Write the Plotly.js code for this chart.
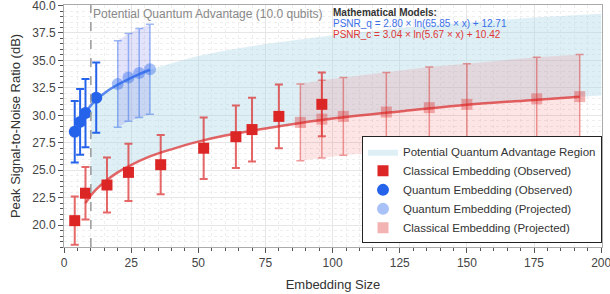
<!DOCTYPE html>
<html>
<head>
<meta charset="utf-8">
<script src="https://cdn.plot.ly/plotly-3.0.1.min.js"></script>
<style>html,body{margin:0;padding:0;background:#fff;}#chart{width:610px;height:294px;}</style>
</head>
<body>
<div id="chart"></div>
<script>
// Quantum embedding (observed)
const qObsX = [4, 6, 8, 12];
const qObsY = [28.5, 29.4, 30.2, 31.6];
const qObsErr = [2.8, 3.0, 3.1, 3.2];
// Quantum embedding (projected)
const qProjX = [20, 24, 28, 32];
const qProjY = [32.85, 33.45, 33.85, 34.2];
const qProjErr = [3.95, 4.0, 4.05, 4.1];
// Classical embedding (observed)
const cObsX = [4, 8, 16, 24, 36, 52, 64, 70, 80, 96];
const cObsY = [20.4, 22.9, 23.65, 24.8, 25.5, 27.0, 28.05, 28.7, 29.9, 31.0];
const cObsErr = [2.2, 2.4, 2.5, 2.6, 2.7, 2.8, 2.85, 2.9, 2.9, 2.9];
// Classical embedding (projected)
const cProjX = [88, 96, 104, 120, 136, 150, 176, 192];
const cProjY = [29.35, 29.65, 29.9, 30.3, 30.7, 31.0, 31.5, 31.7];
const cProjErr = [3.5, 3.55, 3.55, 3.6, 3.7, 3.7, 3.8, 3.85];
// Fitted curves
const qCurveX = [4, 6, 8, 10, 12, 16, 20, 24, 28, 32, 40, 50, 60, 75, 100, 125, 150, 175, 200];
const qCurveY = [28.3, 29.45, 30.25, 30.9, 31.4, 32.2, 32.8, 33.3, 33.75, 34.15, 34.75, 35.4, 35.9, 36.5, 37.3, 37.95, 38.45, 38.9, 39.25];
const cCurveX = [8, 10, 12, 16, 20, 24, 32, 40, 50, 60, 75, 88, 100, 125, 150, 175, 192, 200];
const cCurveY = [22.0, 22.7, 23.25, 24.1, 24.8, 25.35, 26.25, 26.9, 27.6, 28.15, 28.8, 29.3, 29.7, 30.35, 30.95, 31.4, 31.7, 31.8];
const qLineEnd = 32;
const cLineEnd = 192;
const advantageX = 10;
const advantageLabel = 'Potential Quantum Advantage (10.0 qubits)';
const modelTitle = '<b>Mathematical Models:</b>';
const modelQ = 'PSNR_q = 2.80 × ln(65.85 × x) + 12.71';
const modelC = 'PSNR_c = 3.04 × ln(5.67 × x) + 10.42';

const BLUE = '#2563eb', RED = '#dc2626';
const FONT = 'Liberation Sans, Arial, sans-serif';

function sel(xs, ys, f) { const ox = [], oy = []; xs.forEach((x, i) => { if (f(x)) { ox.push(x); oy.push(ys[i]); } }); return [ox, oy]; }

const [ruX, ruY] = sel(qCurveX, qCurveY, x => x >= advantageX);
const [rlX, rlY] = sel(cCurveX, cCurveY, x => x >= advantageX);
const regionX = ruX.concat(rlX.slice().reverse());
const regionY = ruY.concat(rlY.slice().reverse());

const [qlX, qlY] = sel(qCurveX, qCurveY, x => x <= qLineEnd);
const [clX, clY] = sel(cCurveX, cCurveY, x => x <= cLineEnd);

function band(xs, ys, es) {
  const up = ys.map((y, i) => y + es[i]);
  const lo = ys.map((y, i) => y - es[i]);
  return { x: xs.concat(xs.slice().reverse()), y: up.concat(lo.slice().reverse()) };
}
const qBand = band(qProjX, qProjY, qProjErr);
const cBand = band(cProjX, cProjY, cProjErr);

const traces = [
  { x: regionX, y: regionY, type: 'scatter', mode: 'lines', fill: 'toself', fillcolor: 'rgba(173,216,230,0.4)', line: { width: 0, color: 'rgba(173,216,230,0.4)' }, name: 'Potential Quantum Advantage Region', legendrank: 1, hoverinfo: 'skip' },
  { x: qBand.x, y: qBand.y, type: 'scatter', mode: 'lines', fill: 'toself', fillcolor: 'rgba(99,102,241,0.18)', line: { width: 0 }, showlegend: false, hoverinfo: 'skip' },
  { x: cBand.x, y: cBand.y, type: 'scatter', mode: 'lines', fill: 'toself', fillcolor: 'rgba(240,80,80,0.15)', line: { width: 0 }, showlegend: false, hoverinfo: 'skip' },
  { x: qlX, y: qlY, type: 'scatter', mode: 'lines', line: { color: 'rgba(37,99,235,0.75)', width: 2.5, shape: 'spline' }, showlegend: false },
  { x: clX, y: clY, type: 'scatter', mode: 'lines', line: { color: 'rgba(220,38,38,0.7)', width: 2.5, shape: 'spline' }, showlegend: false },
  { x: cObsX, y: cObsY, type: 'scatter', mode: 'markers', name: 'Classical Embedding (Observed)', legendrank: 2,
    marker: { symbol: 'square', size: 11, color: RED },
    error_y: { type: 'data', array: cObsErr, visible: true, color: 'rgba(220,38,38,0.7)', thickness: 2, width: 4 } },
  { x: qObsX, y: qObsY, type: 'scatter', mode: 'markers', name: 'Quantum Embedding (Observed)', legendrank: 3,
    marker: { symbol: 'circle', size: 12, color: BLUE },
    error_y: { type: 'data', array: qObsErr, visible: true, color: BLUE, thickness: 2, width: 4 } },
  { x: qProjX, y: qProjY, type: 'scatter', mode: 'markers', name: 'Quantum Embedding (Projected)', legendrank: 4,
    marker: { symbol: 'circle', size: 12, color: 'rgba(37,99,235,0.4)' },
    error_y: { type: 'data', array: qProjErr, visible: true, color: 'rgba(37,99,235,0.45)', thickness: 1.5, width: 4 } },
  { x: cProjX, y: cProjY, type: 'scatter', mode: 'markers', name: 'Classical Embedding (Projected)', legendrank: 5,
    marker: { symbol: 'square', size: 11, color: 'rgba(220,38,38,0.35)' },
    error_y: { type: 'data', array: cProjErr, visible: true, color: 'rgba(220,38,38,0.45)', thickness: 1.5, width: 4 } }
];

const axisCommon = {
  showline: true, linecolor: '#aaa', linewidth: 1, mirror: true,
  ticks: 'outside', ticklen: 5, tickcolor: '#555', tickwidth: 1,
  showgrid: true, gridcolor: '#e6e6e6', gridwidth: 1, zeroline: false,
  ticklabeloverflow: 'allow',
  tickfont: { family: FONT, size: 12, color: '#444' }
};

const layout = {
  width: 610, height: 294,
  margin: { l: 64, r: 8, t: 5, b: 47 },
  paper_bgcolor: '#fff', plot_bgcolor: '#fff',
  font: { family: FONT },
  showlegend: true,
  legend: { x: 1, xanchor: 'right', y: 0.015, yanchor: 'bottom', bgcolor: '#fff', bordercolor: '#222', borderwidth: 1,
    font: { family: FONT, size: 11.5, color: '#333' }, tracegroupgap: 0, itemwidth: 30 },
  xaxis: Object.assign({}, axisCommon, {
    range: [0, 200.3], dtick: 25, tick0: 0,
    minor: { dtick: 5, ticklen: 3, tickcolor: '#555', showgrid: true, gridcolor: '#eeeeee', griddash: 'dot' },
    title: { text: 'Embedding Size', font: { family: FONT, size: 13, color: '#333' }, standoff: 10 }
  }),
  yaxis: Object.assign({}, axisCommon, {
    range: [18, 40.05], dtick: 2.5, tick0: 20, tickformat: '.1f',
    minor: { dtick: 0.5, ticklen: 3, tickcolor: '#555', showgrid: true, gridcolor: '#eeeeee', griddash: 'dot' },
    title: { text: 'Peak Signal-to-Noise Ratio (dB)', font: { family: FONT, size: 13, color: '#333' }, standoff: 8 }
  }),
  shapes: [
    { type: 'line', xref: 'x', yref: 'paper', x0: advantageX, x1: advantageX, y0: 0, y1: 1, line: { color: '#999', width: 1.5, dash: 'dash' } }
  ],
  annotations: [
    { xref: 'x', yref: 'paper', x: advantageX, y: 1.0, xanchor: 'left', yanchor: 'top', xshift: 0, text: advantageLabel, showarrow: false, font: { family: FONT, size: 12, color: '#888' } },
    { xref: 'paper', yref: 'paper', x: 0.497, y: 1.0, xanchor: 'left', yanchor: 'top', text: modelTitle, showarrow: false, font: { family: FONT, size: 10, color: '#333' } },
    { xref: 'paper', yref: 'paper', x: 0.497, y: 0.955, xanchor: 'left', yanchor: 'top', text: modelQ, showarrow: false, font: { family: FONT, size: 10, color: '#3b6fe8' } },
    { xref: 'paper', yref: 'paper', x: 0.497, y: 0.91, xanchor: 'left', yanchor: 'top', text: modelC, showarrow: false, font: { family: FONT, size: 10, color: '#e03535' } }
  ]
};

Plotly.newPlot('chart', traces, layout, { displayModeBar: false, staticPlot: true });
</script>
</body>
</html>
